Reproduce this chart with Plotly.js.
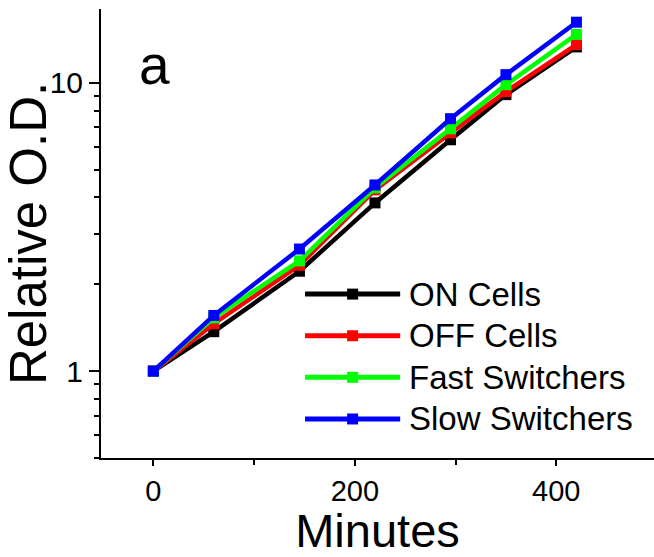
<!DOCTYPE html>
<html>
<head>
<meta charset="utf-8">
<script src="https://cdn.plot.ly/plotly-3.0.1.min.js"></script>
<style>
html,body{margin:0;padding:0;background:#fff;}
#chart{width:654px;height:557px;}
</style>
</head>
<body>
<div id="chart"></div>
<script>
// ---- data ----
const minutes = [0, 60, 145, 220, 295, 350, 420];
const onCells = [1, 1.37, 2.22, 3.83, 6.34, 9.09, 13.3];
const offCells = [1, 1.46, 2.33, 4.25, 6.70, 9.31, 13.55];
const fastSwitchers = [1, 1.53, 2.41, 4.32, 6.92, 9.84, 14.7];
const slowSwitchers = [1, 1.56, 2.65, 4.42, 7.5, 10.66, 16.2];
const seriesNames = ["ON Cells", "OFF Cells", "Fast Switchers", "Slow Switchers"];
const seriesColors = ["#000000", "#ff0000", "#00ff00", "#0000ff"];
const xTickVals = [0, 200, 400];
const xMinorVals = [100, 300];
const yTickVals = [1, 10];
const yTickText = ["1", "10"];
const yMinorVals = [0.5, 0.6, 0.7, 0.8, 0.9, 2, 3, 4, 5, 6, 7, 8, 9];

const seriesValues = [onCells, offCells, fastSwitchers, slowSwitchers];
const FONT = "Arial, 'Liberation Sans', sans-serif";

const traces = seriesValues.map((vals, i) => ({
  type: "scatter",
  mode: "lines+markers",
  x: minutes,
  y: vals,
  name: seriesNames[i],
  line: {color: seriesColors[i], width: 4.5},
  marker: {color: seriesColors[i], size: 11, symbol: "square"},
  showlegend: false
}));

// custom legend (long line samples like the reference)
const shapes = [];
const annotations = [];
const legX0 = 0.369, legX1 = 0.541, legXm = 0.455, legTextX = 0.553;
const legY0 = 0.365, legDy = 0.0927;
const mw = 5.5 / 553, mh = 5.5 / 449;
seriesNames.forEach((nm, i) => {
  const y = legY0 - i * legDy;
  shapes.push({type: "line", xref: "paper", yref: "paper", x0: legX0, x1: legX1, y0: y, y1: y,
    line: {color: seriesColors[i], width: 5}});
  shapes.push({type: "rect", xref: "paper", yref: "paper", x0: legXm - mw, x1: legXm + mw, y0: y - mh, y1: y + mh,
    line: {width: 0}, fillcolor: seriesColors[i]});
  annotations.push({xref: "paper", yref: "paper", x: legTextX, y: y, xanchor: "left", yanchor: "middle",
    text: nm, showarrow: false, font: {family: FONT, size: 33, color: "#000"}});
});
annotations.push({xref: "paper", yref: "paper", x: 0.066, y: 0.876, xanchor: "left", yanchor: "middle",
  text: "a", showarrow: false, font: {family: FONT, size: 55, color: "#000"}});

const xr = [-52, 497];
const yr = [Math.log10(0.5), Math.log10(18)];

const layout = {
  width: 654, height: 557,
  margin: {l: 101, r: 0, t: 9, b: 99},
  paper_bgcolor: "#fff", plot_bgcolor: "#fff",
  font: {family: FONT, color: "#000"},
  showlegend: false,
  xaxis: {
    range: xr, tickvals: xTickVals, ticks: "outside", ticklen: 6, tickwidth: 2, tickcolor: "#000",
    showline: true, linewidth: 2, linecolor: "#000", showgrid: false, zeroline: false,
    tickfont: {family: FONT, size: 29, color: "#000"},
    minor: {tickvals: xMinorVals, ticks: "outside", ticklen: 5, tickwidth: 2, tickcolor: "#000", showgrid: false},
    title: {text: "Minutes", font: {family: FONT, size: 47, color: "#000"}, standoff: 12}
  },
  xaxis2: {
    overlaying: "x", side: "top", range: xr, tickvals: xTickVals, ticks: "inside", ticklen: 7, tickwidth: 2,
    tickcolor: "#000", showticklabels: false, showline: true, linewidth: 2, linecolor: "#000",
    showgrid: false, zeroline: false,
    minor: {tickvals: xMinorVals, ticks: "inside", ticklen: 5, tickwidth: 2, tickcolor: "#000", showgrid: false}
  },
  yaxis: {
    type: "log", range: yr, tickvals: yTickVals, ticktext: yTickText, ticks: "outside", ticklen: 10, tickwidth: 2,
    tickcolor: "#000", showline: true, linewidth: 2, linecolor: "#000", showgrid: false, zeroline: false,
    tickfont: {family: FONT, size: 30, color: "#000"},
    minor: {tickvals: yMinorVals, ticks: "outside", ticklen: 5, tickwidth: 2, tickcolor: "#000", showgrid: false},
    title: {text: "Relative O.D.", font: {family: FONT, size: 51, color: "#000"}, standoff: 5}
  },
  yaxis2: {
    overlaying: "y", side: "right", type: "log", range: yr, tickvals: yTickVals, ticks: "inside", ticklen: 10,
    tickwidth: 2, tickcolor: "#000", showticklabels: false, showline: true, linewidth: 2, linecolor: "#000",
    showgrid: false, zeroline: false,
    minor: {tickvals: yMinorVals, ticks: "inside", ticklen: 5, tickwidth: 2, tickcolor: "#000", showgrid: false}
  },
  shapes: shapes,
  annotations: annotations
};

Plotly.newPlot("chart", traces, layout, {displayModeBar: false, staticPlot: true});
</script>
</body>
</html>
